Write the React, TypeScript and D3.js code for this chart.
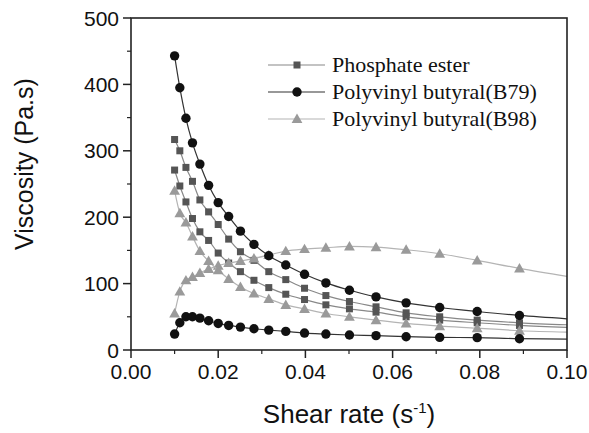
import React from 'react';
import * as d3 from 'd3';

const shearRate = [0.01, 0.0112, 0.0126, 0.0141, 0.0158, 0.0178, 0.02, 0.0224, 0.0251, 0.0282, 0.0316, 0.0355, 0.0398, 0.0447, 0.0501, 0.0562, 0.0631, 0.0708, 0.0794, 0.0891, 0.1];
const phosphateA = [317, 300, 275, 254, 226, 208, 189, 167, 148, 135, 118, 106, 93, 82, 73, 65, 56, 50, 45, 41, 38];
const phosphateB = [271, 247, 223, 198, 178, 165, 146, 131, 118, 105, 94, 84, 76, 68, 62, 57, 50, 45, 41, 37, 34];
const b79A = [443, 395, 349, 312, 280, 248, 222, 201, 179, 159, 142, 128, 114, 101, 90, 80, 71, 64, 58, 52, 47];
const b79B = [24, 41, 50, 50, 48, 44, 40, 37, 34.5, 32, 30, 28, 25.5, 24, 22.6, 21.6, 20, 19, 18.6, 17, 16.5];
const b98A = [240, 206, 192, 171, 149, 134, 120, 107, 95, 85, 77, 68, 62, 55, 50, 45, 40, 36, 33, 29, 27];
const b98B = [55, 88, 105, 110, 116, 122, 127, 131, 134, 138, 143, 149, 152, 154, 156, 155, 151, 145, 135, 123, 111];

const xTicks = [0, 0.02, 0.04, 0.06, 0.08, 0.1];
const xMinor = [0.01, 0.03, 0.05, 0.07, 0.09];
const yTicks = [0, 100, 200, 300, 400, 500];
const yMinor = [50, 150, 250, 350, 450];
const legendNames = ['Phosphate ester', 'Polyvinyl butyral(B79)', 'Polyvinyl butyral(B98)'];

const W = 589, H = 433;
const L = 131, R = 567, T = 18, B = 350;

type Kind = 'square' | 'circle' | 'triangle';
const styles: { kind: Kind; fill: string; line: string }[] = [
  { kind: 'square', fill: '#555', line: '#888' },
  { kind: 'circle', fill: '#111', line: '#333' },
  { kind: 'triangle', fill: '#9a9a9a', line: '#b4b4b4' },
];

function Marker({ kind, x, y, fill }: { kind: Kind; x: number; y: number; fill: string }) {
  if (kind === 'square') return <rect x={x - 3.5} y={y - 3.5} width={7} height={7} fill={fill} />;
  if (kind === 'circle') return <circle cx={x} cy={y} r={4.7} fill={fill} />;
  const s = 5.4;
  return <path d={`M${x},${y - s}L${x + s},${y + s * 0.75}L${x - s},${y + s * 0.75}Z`} fill={fill} />;
}

export default function App() {
  const x = d3.scaleLinear().domain([0, 0.1]).range([L, R]);
  const y = d3.scaleLinear().domain([0, 500]).range([B, T]);
  const line = d3.line<number>().x((_, i) => x(shearRate[i])).y((v) => y(v)).curve(d3.curveMonotoneX);

  const series = [
    { vals: phosphateA, st: styles[0] },
    { vals: phosphateB, st: styles[0] },
    { vals: b98B, st: styles[2] },
    { vals: b98A, st: styles[2] },
    { vals: b79A, st: styles[1] },
    { vals: b79B, st: styles[1] },
  ];
  const sans = 'Liberation Sans, Arial, sans-serif';
  const serif = 'Liberation Serif, Times New Roman, serif';
  const axisColor = '#222';

  return (
    <svg width={W} height={H} style={{ display: 'block', position: 'absolute', left: 0, top: 0 }}>
      <rect x={0} y={0} width={W} height={H} fill="#fff" />
      {series.map((s, si) => (
        <g key={si}>
          <path d={line(s.vals) || ''} fill="none" stroke={s.st.line} strokeWidth={1.2} />
          {s.vals.map((v, i) =>
            shearRate[i] < 0.1 ? <Marker key={i} kind={s.st.kind} x={x(shearRate[i])} y={y(v)} fill={s.st.fill} /> : null
          )}
        </g>
      ))}
      <rect x={L} y={T} width={R - L} height={B - T} fill="none" stroke={axisColor} strokeWidth={1.6} />
      {yTicks.map((t) => (
        <g key={'y' + t}>
          <line x1={L - 8} x2={L} y1={y(t)} y2={y(t)} stroke={axisColor} strokeWidth={1.5} />
          <text x={L - 12} y={y(t)} dy="0.36em" textAnchor="end" fontFamily={sans} fontSize={21} fill="#111">{t}</text>
        </g>
      ))}
      {yMinor.map((t) => (
        <line key={'ym' + t} x1={L - 4} x2={L} y1={y(t)} y2={y(t)} stroke={axisColor} strokeWidth={1.2} />
      ))}
      {xTicks.map((t) => (
        <g key={'x' + t}>
          <line x1={x(t)} x2={x(t)} y1={B} y2={B + 8} stroke={axisColor} strokeWidth={1.5} />
          <text x={x(t)} y={B + 29} textAnchor="middle" fontFamily={sans} fontSize={21} fill="#111">{t.toFixed(2)}</text>
        </g>
      ))}
      {xMinor.map((t) => (
        <line key={'xm' + t} x1={x(t)} x2={x(t)} y1={B} y2={B + 4} stroke={axisColor} strokeWidth={1.2} />
      ))}
      <text transform={`translate(33,${164}) rotate(-90)`} textAnchor="middle" fontFamily={sans} fontSize={25} fill="#111">Viscosity (Pa.s)</text>
      <text x={(L + R) / 2} y={423} textAnchor="middle" fontFamily={sans} fontSize={26} fill="#111">
        Shear rate (s<tspan dy={-10} fontSize={15}>-1</tspan><tspan dy={10}>)</tspan>
      </text>
      {legendNames.map((n, i) => {
        const ly = 65 + i * 27;
        const st = styles[i];
        return (
          <g key={n}>
            <line x1={268} x2={325} y1={ly} y2={ly} stroke={st.line} strokeWidth={1.2} />
            <Marker kind={st.kind} x={297} y={ly} fill={st.fill} />
            <text x={332} y={ly} dy="0.33em" fontFamily={serif} fontSize={22} fill="#111">{n}</text>
          </g>
        );
      })}
    </svg>
  );
}
